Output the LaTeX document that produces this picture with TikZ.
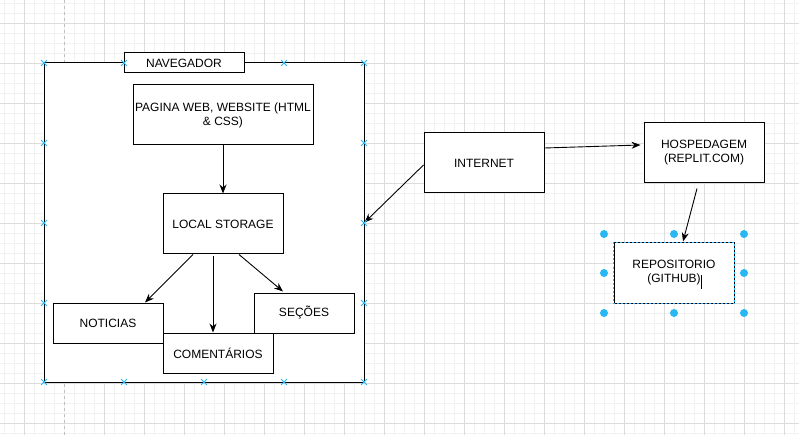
\documentclass[tikz,border=0pt]{standalone}
\usepackage{fontspec}
\setmainfont{Liberation Sans}
\usepackage{xcolor}
\usepackage{tikz}
\usetikzlibrary{shapes.misc,arrows.meta,positioning,calc}
\definecolor{handleblue}{HTML}{29B6F2}
\definecolor{gridminor}{HTML}{F2F2F2}
\definecolor{gridmajor}{HTML}{DCDCDC}

\begin{document}
\begin{tikzpicture}[x=1pt,y=-1pt,
  box/.style={rectangle,draw=black,fill=white,line width=1pt,inner sep=2pt,align=center,font=\fontsize{12}{14}\selectfont},
  arr/.style={-{Stealth[length=9pt,width=7pt]},line width=0.9pt,draw=black},
  xpt/.style={cross out,draw=handleblue,line width=0.8pt,minimum size=5pt,inner sep=0pt},
  handle/.style={circle,fill=handleblue,minimum size=8pt,inner sep=0pt}
]
\useasboundingbox (0,0) rectangle (799,435);
\fill[white] (0,0) rectangle (799,435);
% grid
\foreach \i in {4,14,...,794} \draw[gridminor,line width=0.8pt] (\i,0)--(\i,435);
\foreach \j in {3,13,...,433} \draw[gridminor,line width=0.8pt] (0,\j)--(799,\j);
\foreach \i in {24,104,144,...,784} \draw[gridmajor,line width=0.8pt] (\i,0)--(\i,435);
\foreach \j in {23,63,...,423} \draw[gridmajor,line width=0.8pt] (0,\j)--(799,\j);
\draw[gray!50,dashed,line width=0.8pt] (64,0)--(64,435);

% navegador
\node[box,minimum width=320pt,minimum height=319pt] (nav) at (204,222.5) {};
\node[box,minimum width=120pt,minimum height=20pt] (navtitle) at (184,63) {NAVEGADOR};
\node[box,minimum width=180pt,minimum height=60pt] (pagina) at (223,115) {PAGINA WEB, WEBSITE (HTML\\ \& CSS)};
\node[box,minimum width=120pt,minimum height=60pt,below=48pt of pagina] (storage) {LOCAL STORAGE};
\node[box,minimum width=110pt,minimum height=40pt] (noticias) at (108,323) {NOTICIAS};
\node[box,minimum width=100pt,minimum height=40pt] (secoes) at (304,313) {SEÇÕES};
\node[box,minimum width=110pt,minimum height=40pt] (coment) at (218,353) {COMENTÁRIOS};

% fora do navegador
\node[box,minimum width=120pt,minimum height=60pt] (internet) at (484,163) {INTERNET};
\node[box,minimum width=120pt,minimum height=60pt] (hosp) at (704,153) {HOSPEDAGEM\\ (REPLIT.COM)};
\node[box,minimum width=120pt,minimum height=60pt] (repo) at (674,273) {REPOSITORIO\\ (GITHUB)};
\draw[handleblue,dashed,dash pattern=on 2pt off 2pt,line width=0.8pt] (repo.north west) rectangle (repo.south east);
\draw[black,line width=0.6pt] (701,275)--(701,289);

\draw[arr] (pagina)--(storage);
\draw[arr] ($(storage.south)+(-30,0)$)--($(noticias.north)+(37,0)$);
\draw[arr] ($(storage.south)+(-10,2)$)--($(coment.north)+(-5,0)$);
\draw[arr] ($(storage.south)+(16,0)$)--($(secoes.north)+(-21,-1)$);
\draw[arr] ($(internet.west)+(0,2)$)--(nav.east);
\draw[arr] ($(internet.east)+(0,-15)$)--($(hosp.west)+(-3,-8)$);
\draw[arr] ($(hosp.south)+(-7,5)$)--($(repo.north)+(9,-1)$);

% marcadores
\foreach \p in {(44,63),(124,63),(284,63),(364,63),(44,382),(124,382),(204,382),(284,382),(364,382),(44,143),(44,223),(44,303),(364,143),(364,223),(364,303)}
  \node[xpt] at \p {};
\foreach \p in {(604,234),(674,234),(744,234),(604,273),(744,273),(604,313),(674,313),(744,313)}
  \node[handle] at \p {};
\end{tikzpicture}
\end{document}
